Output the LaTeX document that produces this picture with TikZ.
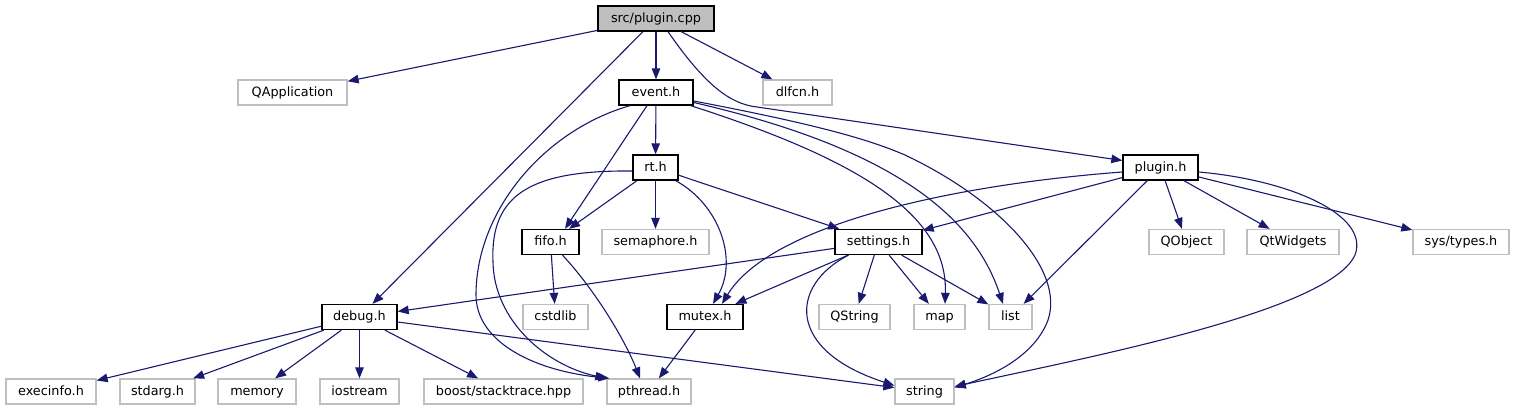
\documentclass[tikz,border=0pt]{standalone}
\usepackage{fontspec}
\setmainfont{DejaVu Sans}
\usetikzlibrary{arrows.meta}
\definecolor{edgeblue}{HTML}{191970}
\definecolor{boxgray}{HTML}{BFBFBF}
\newcommand\graphfont{\fontsize{12.8}{15}\selectfont}
\tikzset{
  hdr/.style={draw=black, line width=1.3pt, fill=white, minimum height=25pt, inner sep=0pt,
    font=\graphfont, text=black, text height=10pt, text depth=2.5pt},
  ext/.style={hdr, draw=boxgray},
  rootbox/.style={hdr, fill=boxgray},
  dep/.style={draw=edgeblue, line width=1.1pt, -{Triangle[length=11pt,width=8.5pt]}},
}
\begin{document}
\begin{tikzpicture}[x=1pt,y=-1pt]
\useasboundingbox[fill=white] (0,0) rectangle (1515,411);
% row 0
\node[rootbox, minimum width=116pt] (cpp) at (656,18.5) {src/plugin.cpp};
% row 1
\node[ext, minimum width=109pt] (qapp) at (292.5,92.5) {QApplication};
\node[hdr, minimum width=74pt] (event) at (656,92.5) {event.h};
\node[ext, minimum width=69pt] (dlfcn) at (797.5,92.5) {dlfcn.h};
% row 2
\node[hdr, minimum width=45pt] (rt) at (655.5,167.5) {rt.h};
\node[hdr, minimum width=75pt] (plugin) at (1160.5,167.5) {plugin.h};
% row 3
\node[hdr, minimum width=57pt] (fifo) at (550.5,242) {fifo.h};
\node[ext, minimum width=107pt] (semaphore) at (655.5,242) {semaphore.h};
\node[hdr, minimum width=87pt] (settings) at (878.5,242) {settings.h};
\node[ext, minimum width=75pt] (qobject) at (1186.5,242) {QObject};
\node[ext, minimum width=92pt] (qtwidgets) at (1293,242) {QtWidgets};
\node[ext, minimum width=96pt] (systypes) at (1461,242) {sys/types.h};
% row 4
\node[hdr, minimum width=75pt] (debug) at (359.5,317) {debug.h};
\node[ext, minimum width=65pt] (cstdlib) at (555.5,317) {cstdlib};
\node[hdr, minimum width=76pt] (mutex) at (705,317) {mutex.h};
\node[ext, minimum width=71pt] (qstring) at (854.5,317) {QString};
\node[ext, minimum width=51pt] (map) at (939.5,317) {map};
\node[ext, minimum width=43pt] (list) at (1010.5,317) {list};
% row 5
\node[ext, minimum width=90pt] (execinfo) at (51,391.5) {execinfo.h};
\node[ext, minimum width=75pt] (stdarg) at (157.5,391.5) {stdarg.h};
\node[ext, minimum width=78pt] (memory) at (257,391.5) {memory};
\node[ext, minimum width=79pt] (iostream) at (359.5,391.5) {iostream};
\node[ext, minimum width=159pt] (boost) at (503.5,391.5) {boost/stacktrace.hpp};
\node[ext, minimum width=84pt] (pthread) at (649,391.5) {pthread.h};
\node[ext, minimum width=59pt] (string) at (924.5,391.5) {string};

% src/plugin.cpp
\draw[dep] (cpp) -- (qapp);
\draw[dep] (cpp) -- (debug);
\draw[dep] (cpp) -- (event);
\draw[dep] (cpp) -- (dlfcn);
\draw[dep] ([xshift=12pt]cpp.south) .. controls (705,85) and (730,104) .. (757,107) -- ([yshift=7pt]plugin.west);
% event.h
\draw[dep] (event) -- (rt);
\draw[dep] ([xshift=-9pt]event.south) -- ([xshift=14.5pt]fifo.north);
\draw[dep] ([xshift=-26pt]event.south) .. controls (545,130) and (476,210) .. (476,295)
  .. controls (476,340) and (530,370) .. ([xshift=3pt]pthread.north west);
\draw[dep] ([xshift=-3pt]event.south east) .. controls (860,160) and (948,215) .. ([xshift=5.5pt]map.north);
\draw[dep] ([yshift=-10pt]event.east) .. controls (900,150) and (975,220) .. ([xshift=-7.5pt]list.north);
\draw[dep] ([yshift=-8.5pt]event.east) .. controls (820,125) and (870,140) .. (905,155)
  .. controls (1000,200) and (1065,270) .. (1048,320)
  .. controls (1035,355) and (995,375) .. ([yshift=4pt]string.east);
% rt.h
\draw[dep] (rt) -- (fifo);
\draw[dep] (rt) -- (semaphore);
\draw[dep] (rt) -- (settings);
\draw[dep] ([xshift=-3pt]rt.south east) .. controls (720,205) and (738,260) .. ([xshift=8pt]mutex.north);
\draw[dep] ([yshift=-3.5pt]rt.west) .. controls (530,170) and (490,195) .. (493,262)
  .. controls (494,320) and (545,365) .. (pthread.north west);
% plugin.h
\draw[dep] (plugin) -- (settings);
\draw[dep] ([yshift=-4.5pt]plugin.west) .. controls (950,185) and (770,225) .. ([xshift=17pt]mutex.north);
\draw[dep] (plugin) -- (list);
\draw[dep] (plugin) -- (qobject);
\draw[dep] (plugin) -- (qtwidgets);
\draw[dep] (plugin) -- (systypes);
\draw[dep] ([yshift=-4.5pt]plugin.east) .. controls (1290,180) and (1370,215) .. (1355,255)
  .. controls (1330,310) and (1100,355) .. ([yshift=5pt]string.east);
% fifo.h
\draw[dep] (fifo) -- (cstdlib);
\draw[dep] ([xshift=12pt]fifo.south) .. controls (595,290) and (625,340) .. ([xshift=-9pt]pthread.north);
% settings.h
\draw[dep] (settings) -- (debug);
\draw[dep] (settings) -- (mutex);
\draw[dep] (settings) -- (qstring);
\draw[dep] (settings) -- (map);
\draw[dep] (settings) -- (list);
\draw[dep] ([xshift=-30pt]settings.south) .. controls (790,285) and (785,350) .. ([yshift=6pt]string.west);
% mutex.h
\draw[dep] (mutex) -- (pthread);
% debug.h
\draw[dep] (debug) -- (execinfo);
\draw[dep] (debug) -- (stdarg);
\draw[dep] (debug) -- (memory);
\draw[dep] (debug) -- (iostream);
\draw[dep] (debug) -- (boost);
\draw[dep] (debug) -- (string);
\end{tikzpicture}
\end{document}
